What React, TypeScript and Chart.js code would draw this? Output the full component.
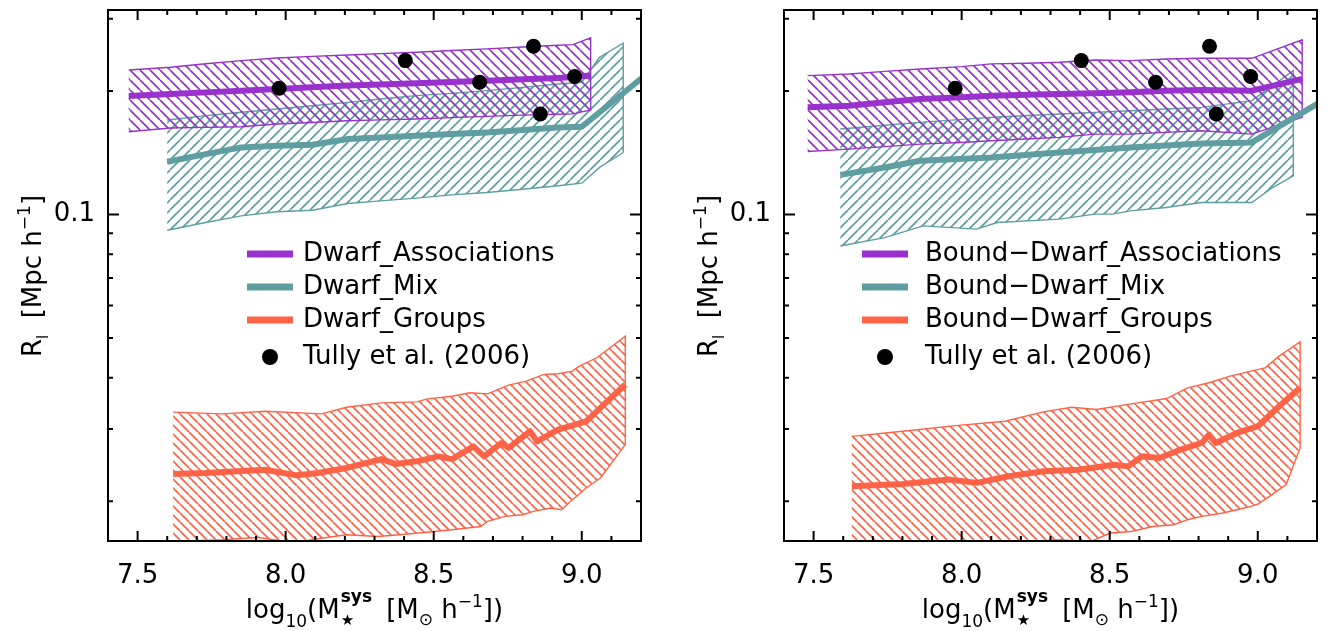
import React, { useEffect, useRef } from 'react';
import { Chart, registerables } from 'chart.js';

Chart.register(...registerables);

const FONT = '"DejaVu Sans", sans-serif';
const PURPLE = 'rgb(153,50,204)';
const TEAL = 'rgb(95,158,160)';
const ORANGE = 'rgb(255,99,71)';

// ---------- axes ----------
const X_MIN = 7.4;
const X_MAX = 9.2;
const Y_MIN = 0.016;
const Y_MAX = 0.315;
const xMajorTicks = [7.5, 8.0, 8.5, 9.0];
const xTickLabels = ['7.5', '8.0', '8.5', '9.0'];
const xMinorTicks = [7.5, 7.6, 7.7, 7.8, 7.9, 8.0, 8.1, 8.2, 8.3, 8.4, 8.5, 8.6, 8.7, 8.8, 8.9, 9.0, 9.1];
const yMajorTicks = [0.1];
const yTickLabels = ['0.1'];
const yMinorTicks = [0.02, 0.03, 0.04, 0.05, 0.06, 0.07, 0.08, 0.09, 0.2, 0.3];

// ---------- Tully et al. (2006) ----------
const tullyX = [7.978, 8.404, 8.655, 8.837, 8.976, 8.86];
const tullyR = [0.203, 0.2371, 0.21, 0.257, 0.2168, 0.1757];

// ---------- left panel ----------
const assocX_L = [7.47, 7.61, 7.73, 7.85, 7.97, 8.09, 8.21, 8.32, 8.44, 8.56, 8.68, 8.8, 8.92, 8.97, 9.03];
const assocHi_L = [0.225, 0.2284, 0.233, 0.2371, 0.2407, 0.2428, 0.2448, 0.2466, 0.2485, 0.2509, 0.2533, 0.256, 0.2585, 0.2594, 0.2694];
const assocLo_L = [0.1591, 0.1624, 0.163, 0.1636, 0.1661, 0.1676, 0.1692, 0.17, 0.1709, 0.1722, 0.1734, 0.1746, 0.1755, 0.1758, 0.1798];
const assocMean_L = [0.1945, 0.1965, 0.1984, 0.2003, 0.2022, 0.2042, 0.2061, 0.2074, 0.2087, 0.2103, 0.2119, 0.2135, 0.2152, 0.2162, 0.218];

const mixX_L = [7.6, 7.73, 7.85, 7.97, 8.09, 8.21, 8.32, 8.44, 8.56, 8.68, 8.8, 8.92, 9.0, 9.06, 9.14];
const mixHi_L = [0.1699, 0.1741, 0.1774, 0.1807, 0.1841, 0.1876, 0.1911, 0.1948, 0.1973, 0.2003, 0.2041, 0.208, 0.21, 0.2416, 0.2614];
const mixLo_L = [0.0915, 0.0956, 0.0992, 0.1015, 0.1024, 0.1063, 0.1079, 0.1096, 0.1116, 0.1131, 0.1152, 0.1175, 0.1192, 0.1302, 0.1416];
const mixMeanX_L = [7.6, 7.73, 7.85, 7.97, 8.09, 8.21, 8.32, 8.44, 8.56, 8.68, 8.8, 8.92, 9.0, 9.22];
const mixMean_L = [0.1344, 0.1403, 0.1457, 0.1471, 0.1479, 0.1527, 0.1541, 0.1556, 0.157, 0.1585, 0.1606, 0.163, 0.1636, 0.22];

const groupsHiX_L = [7.62, 7.787, 7.93, 8.121, 8.205, 8.324, 8.443, 8.479, 8.562, 8.622, 8.682, 8.753, 8.813, 8.872, 8.92, 8.968, 8.992, 9.051, 9.147];
const groupsHi_L = [0.03297, 0.03266, 0.03315, 0.03266, 0.0339, 0.03473, 0.03493, 0.03552, 0.03606, 0.03675, 0.03654, 0.03837, 0.03924, 0.04074, 0.04089, 0.04151, 0.0427, 0.04474, 0.05053];
const groupsLoX_L = [7.62, 7.787, 7.907, 8.038, 8.085, 8.205, 8.312, 8.384, 8.503, 8.562, 8.658, 8.682, 8.741, 8.801, 8.837, 8.896, 8.932, 8.956, 9.015, 9.063, 9.147];
const groupsLo_L = [0.01596, 0.01611, 0.01632, 0.01581, 0.01611, 0.01657, 0.01641, 0.01657, 0.01688, 0.01704, 0.01736, 0.01786, 0.01837, 0.01854, 0.01889, 0.01925, 0.01907, 0.0198, 0.02154, 0.02279, 0.02749];
const groupsMeanX_L = [7.62, 7.728, 7.93, 8.038, 8.109, 8.205, 8.324, 8.372, 8.443, 8.515, 8.562, 8.634, 8.67, 8.729, 8.753, 8.825, 8.849, 8.92, 9.015, 9.063, 9.147];
const groupsMean_L = [0.0233, 0.02343, 0.02387, 0.02313, 0.02343, 0.0241, 0.02534, 0.02464, 0.02502, 0.02573, 0.02534, 0.02722, 0.02573, 0.02774, 0.02698, 0.02962, 0.028, 0.0299, 0.03133, 0.03377, 0.03851];

// ---------- right panel ----------
const assocX_R = [7.48, 7.62, 7.74, 7.86, 8.0, 8.1, 8.22, 8.33, 8.45, 8.57, 8.69, 8.81, 8.98, 9.15];
const assocHi_R = [0.218, 0.22, 0.2232, 0.2263, 0.2293, 0.2328, 0.2336, 0.2349, 0.238, 0.2371, 0.2393, 0.2402, 0.2402, 0.2664];
const assocLo_R = [0.1424, 0.1443, 0.1463, 0.1484, 0.1498, 0.1512, 0.1527, 0.1541, 0.157, 0.157, 0.1585, 0.16, 0.157, 0.1725];
const assocMean_R = [0.1824, 0.1841, 0.1876, 0.1911, 0.193, 0.1948, 0.1957, 0.1966, 0.1975, 0.1985, 0.2003, 0.2011, 0.2003, 0.214];

const mixX_R = [7.59, 7.74, 7.87, 8.05, 8.12, 8.33, 8.45, 8.51, 8.57, 8.69, 8.81, 8.98, 9.05, 9.12];
const mixHi_R = [0.1615, 0.165, 0.1679, 0.1715, 0.1728, 0.1757, 0.1773, 0.1782, 0.179, 0.1807, 0.1824, 0.1894, 0.206, 0.2241];
const mixLo_R = [0.0838, 0.0878, 0.0938, 0.0921, 0.0956, 0.0974, 0.1002, 0.1002, 0.102, 0.104, 0.1069, 0.1069, 0.1163, 0.1242];
const mixMeanX_R = [7.59, 7.74, 7.86, 8.1, 8.33, 8.57, 8.81, 8.98, 9.22];
const mixMean_R = [0.1249, 0.1302, 0.1352, 0.1377, 0.1416, 0.1457, 0.149, 0.1498, 0.1896];

const groupsHiX_R = [7.629, 7.801, 7.98, 8.146, 8.276, 8.371, 8.455, 8.573, 8.692, 8.763, 8.835, 8.906, 8.977, 9.025, 9.072, 9.143];
const groupsHi_R = [0.02879, 0.02962, 0.03058, 0.03133, 0.03303, 0.0339, 0.03346, 0.03454, 0.03559, 0.0378, 0.03888, 0.04036, 0.04151, 0.04229, 0.04516, 0.04895];
const groupsLoX_R = [7.629, 7.801, 7.98, 8.098, 8.217, 8.336, 8.431, 8.502, 8.573, 8.645, 8.716, 8.763, 8.811, 8.882, 8.93, 8.977, 9.001, 9.048, 9.096, 9.143];
const groupsLo_R = [0.01581, 0.01581, 0.01581, 0.01587, 0.01596, 0.01611, 0.0159, 0.01673, 0.01688, 0.01736, 0.01753, 0.01803, 0.01837, 0.01872, 0.01907, 0.01943, 0.01969, 0.02075, 0.02196, 0.02698];
const groupsMeanX_R = [7.629, 7.801, 7.956, 8.051, 8.158, 8.276, 8.395, 8.514, 8.562, 8.609, 8.668, 8.74, 8.811, 8.835, 8.858, 8.93, 9.001, 9.072, 9.143];
const groupsMean_R = [0.02176, 0.02204, 0.02259, 0.02217, 0.02301, 0.02366, 0.02387, 0.02455, 0.02432, 0.02573, 0.02549, 0.02673, 0.02774, 0.02907, 0.02774, 0.02934, 0.03047, 0.03409, 0.0378];

const legendLabels_L = ['Dwarf_Associations', 'Dwarf_Mix', 'Dwarf_Groups', 'Tully et al. (2006)'];
const legendLabels_R = ['Bound\u2212Dwarf_Associations', 'Bound\u2212Dwarf_Mix', 'Bound\u2212Dwarf_Groups', 'Tully et al. (2006)'];

type XY = { x: number; y: number };
const pts = (xs: number[], ys: number[]): XY[] => xs.map((x, i) => ({ x, y: ys[i] }));
const polygon = (hx: number[], hy: number[], lx: number[], ly: number[]): XY[] => [
  ...pts(hx, hy),
  ...pts(lx, ly).reverse(),
];

interface PanelSpec {
  left: number;
  yAxisWidth: number;
  rightPad: number;
  labels: string[];
  swatchX0: number;
  swatchX1: number;
  textX: number;
  dotX: number;
  assoc: { poly: XY[]; mean: XY[] };
  mix: { poly: XY[]; mean: XY[] };
  groups: { poly: XY[]; mean: XY[] };
}

const PANELS: PanelSpec[] = [
  {
    left: 0,
    yAxisWidth: 108,
    rightPad: 27,
    labels: legendLabels_L,
    swatchX0: 247,
    swatchX1: 293,
    textX: 303,
    dotX: 270,
    assoc: { poly: polygon(assocX_L, assocHi_L, assocX_L, assocLo_L), mean: pts(assocX_L, assocMean_L) },
    mix: { poly: polygon(mixX_L, mixHi_L, mixX_L, mixLo_L), mean: pts(mixMeanX_L, mixMean_L) },
    groups: { poly: polygon(groupsHiX_L, groupsHi_L, groupsLoX_L, groupsLo_L), mean: pts(groupsMeanX_L, groupsMean_L) },
  },
  {
    left: 668,
    yAxisWidth: 116,
    rightPad: 19,
    labels: legendLabels_R,
    swatchX0: 194,
    swatchX1: 240,
    textX: 257,
    dotX: 217,
    assoc: { poly: polygon(assocX_R, assocHi_R, assocX_R, assocLo_R), mean: pts(assocX_R, assocMean_R) },
    mix: { poly: polygon(mixX_R, mixHi_R, mixX_R, mixLo_R), mean: pts(mixMeanX_R, mixMean_R) },
    groups: { poly: polygon(groupsHiX_R, groupsHi_R, groupsLoX_R, groupsLo_R), mean: pts(groupsMeanX_R, groupsMean_R) },
  },
];

const LEGEND_ROWS = [254, 287, 320, 357];

function makeHatch(ctx: CanvasRenderingContext2D, color: string, size: number, dir: 'back' | 'fwd') {
  const c = document.createElement('canvas');
  c.width = size;
  c.height = size;
  const g = c.getContext('2d') as CanvasRenderingContext2D;
  g.strokeStyle = color;
  g.lineWidth = 1.7;
  g.beginPath();
  for (let k = -1; k <= 1; k++) {
    if (dir === 'back') {
      g.moveTo(k * size, 0);
      g.lineTo(k * size + size, size);
    } else {
      g.moveTo(k * size + size, 0);
      g.lineTo(k * size, size);
    }
  }
  g.stroke();
  return ctx.createPattern(c, 'repeat') as CanvasPattern;
}

function Panel({ spec }: { spec: PanelSpec }) {
  const ref = useRef<HTMLCanvasElement | null>(null);
  useEffect(() => {
    const canvas = ref.current;
    if (!canvas) return;
    const ctx = canvas.getContext('2d') as CanvasRenderingContext2D;
    const purpleHatch = makeHatch(ctx, PURPLE, 10, 'back');
    const tealHatch = makeHatch(ctx, TEAL, 10, 'fwd');
    const orangeHatch = makeHatch(ctx, ORANGE, 9, 'back');

    const band = (data: XY[], color: string, pattern: CanvasPattern) => ({
      data,
      borderColor: color,
      borderWidth: 1.4,
      backgroundColor: pattern,
      fill: 'shape',
      pointRadius: 0,
      pointHoverRadius: 0,
      tension: 0,
    });
    const meanLine = (data: XY[], color: string) => ({
      data,
      borderColor: color,
      backgroundColor: color,
      borderWidth: 6,
      fill: false,
      pointRadius: 0,
      pointHoverRadius: 0,
      borderJoinStyle: 'round',
      tension: 0,
    });

    const decor = {
      id: 'decor',
      afterDraw(chart: any) {
        const c = chart.ctx as CanvasRenderingContext2D;
        const a = chart.chartArea;
        const xs = chart.scales.x;
        const ys = chart.scales.y;
        c.save();
        c.strokeStyle = '#000';
        c.lineWidth = 2;
        c.beginPath();
        for (const v of xMinorTicks) {
          const px = xs.getPixelForValue(v);
          const len = xMajorTicks.includes(v) ? 10 : 5;
          c.moveTo(px, a.bottom);
          c.lineTo(px, a.bottom - len);
          c.moveTo(px, a.top);
          c.lineTo(px, a.top + len);
        }
        for (const v of [...yMinorTicks, ...yMajorTicks]) {
          const py = ys.getPixelForValue(v);
          const len = yMajorTicks.includes(v) ? 11 : 5;
          c.moveTo(a.left, py);
          c.lineTo(a.left + len, py);
          c.moveTo(a.right, py);
          c.lineTo(a.right - len, py);
        }
        c.stroke();
        c.strokeRect(a.left, a.top, a.right - a.left, a.bottom - a.top);

        // legend
        const colors = [PURPLE, TEAL, ORANGE];
        c.lineWidth = 7;
        c.lineCap = 'butt';
        for (let i = 0; i < 3; i++) {
          c.strokeStyle = colors[i];
          c.beginPath();
          c.moveTo(spec.swatchX0, LEGEND_ROWS[i]);
          c.lineTo(spec.swatchX1, LEGEND_ROWS[i]);
          c.stroke();
        }
        c.fillStyle = '#000';
        c.beginPath();
        c.arc(spec.dotX, LEGEND_ROWS[3], 8, 0, Math.PI * 2);
        c.fill();
        c.font = `26px ${FONT}`;
        c.textBaseline = 'middle';
        c.textAlign = 'left';
        for (let i = 0; i < 4; i++) {
          c.fillText(spec.labels[i], spec.textX, LEGEND_ROWS[i]);
        }
        c.restore();
      },
    };

    const chart = new Chart(canvas, {
      type: 'line',
      data: {
        datasets: [
          {
            data: pts(tullyX, tullyR),
            showLine: false,
            pointRadius: 7.5,
            pointHoverRadius: 7.5,
            pointBackgroundColor: '#000',
            pointBorderWidth: 0,
            borderColor: '#000',
            backgroundColor: '#000',
          },
          meanLine(spec.assoc.mean, PURPLE),
          meanLine(spec.mix.mean, TEAL),
          meanLine(spec.groups.mean, ORANGE),
          band(spec.assoc.poly, PURPLE, purpleHatch),
          band(spec.mix.poly, TEAL, tealHatch),
          band(spec.groups.poly, ORANGE, orangeHatch),
        ] as any,
      },
      options: {
        responsive: false,
        animation: false,
        events: [],
        layout: { padding: { left: 0, right: spec.rightPad, top: 10, bottom: 0 } },
        plugins: { legend: { display: false }, tooltip: { enabled: false } },
        scales: {
          x: {
            type: 'linear',
            min: X_MIN,
            max: X_MAX,
            bounds: 'data',
            grid: { display: false, drawTicks: false },
            border: { display: false },
            afterBuildTicks: (s: any) => {
              s.ticks = xMajorTicks.map((v) => ({ value: v }));
            },
            afterFit: (s: any) => {
              s.height = 90;
              s.paddingLeft = 0;
              s.paddingRight = 0;
            },
            ticks: {
              padding: 20,
              color: '#000',
              font: { family: FONT, size: 26 },
              maxRotation: 0,
              autoSkip: false,
              callback: (v: any) => {
                const i = xMajorTicks.indexOf(Number(v));
                return i >= 0 ? xTickLabels[i] : '';
              },
            },
          },
          y: {
            type: 'logarithmic',
            min: Y_MIN,
            max: Y_MAX,
            bounds: 'data',
            grid: { display: false, drawTicks: false },
            border: { display: false },
            afterBuildTicks: (s: any) => {
              s.ticks = yMajorTicks.map((v) => ({ value: v }));
            },
            afterFit: (s: any) => {
              s.width = spec.yAxisWidth;
              s.paddingTop = 0;
              s.paddingBottom = 0;
            },
            ticks: {
              padding: 13,
              color: '#000',
              font: { family: FONT, size: 26 },
              autoSkip: false,
              callback: (v: any) => {
                const i = yMajorTicks.indexOf(Number(v));
                return i >= 0 ? yTickLabels[i] : '';
              },
            },
          },
        },
      } as any,
      plugins: [decor],
    });
    return () => chart.destroy();
  }, [spec]);

  return (
    <div style={{ position: 'absolute', left: spec.left, top: 0, width: 668, height: 631 }}>
      <canvas ref={ref} width={668} height={631} style={{ width: 668, height: 631, display: 'block' }} />
    </div>
  );
}

const baseText: React.CSSProperties = {
  position: 'absolute',
  fontFamily: FONT,
  fontSize: 26,
  lineHeight: '30px',
  height: 30,
  whiteSpace: 'pre',
  textAlign: 'center',
  color: '#000',
};

function XTitle({ cx }: { cx: number }) {
  return (
    <div style={{ ...baseText, left: cx - 250, width: 500, top: 594 }}>
      log
      <span style={{ fontSize: 17, position: 'relative', top: 9 }}>10</span>
      (M
      <span style={{ display: 'inline-block', position: 'relative', width: 30, height: 30, verticalAlign: 'top' }}>
        <span style={{ position: 'absolute', left: 1, top: -6, fontSize: 17, lineHeight: '17px', fontWeight: 'bold' }}>sys</span>
        <span style={{ position: 'absolute', left: 1, top: 19, fontSize: 15, lineHeight: '15px' }}>{'\u2605'}</span>
      </span>
      {'  [M'}
      <span style={{ fontSize: 17, position: 'relative', top: 7 }}>{'\u2299'}</span>
      {' h'}
      <span style={{ fontSize: 17, position: 'relative', top: -11 }}>{'\u22121'}</span>
      {'])'}
    </div>
  );
}

function YTitle({ cx, cy }: { cx: number; cy: number }) {
  return (
    <div
      style={{
        ...baseText,
        left: cx - 200,
        width: 400,
        top: cy - 15,
        transform: 'rotate(-90deg)',
        transformOrigin: '50% 50%',
      }}
    >
      R<span style={{ fontSize: 15, position: 'relative', top: 7 }}>l</span>
      {'  [Mpc h'}
      <span style={{ fontSize: 17, position: 'relative', top: -11 }}>{'\u22121'}</span>
      {']'}
    </div>
  );
}

export default function App() {
  return (
    <div style={{ position: 'fixed', left: 0, top: 0, width: 1336, height: 631, background: '#fff', overflow: 'hidden' }}>
      {PANELS.map((p, i) => (
        <Panel key={i} spec={p} />
      ))}
      <XTitle cx={374.5} />
      <XTitle cx={1050.5} />
      <YTitle cx={31.7} cy={276} />
      <YTitle cx={707.5} cy={276} />
    </div>
  );
}
